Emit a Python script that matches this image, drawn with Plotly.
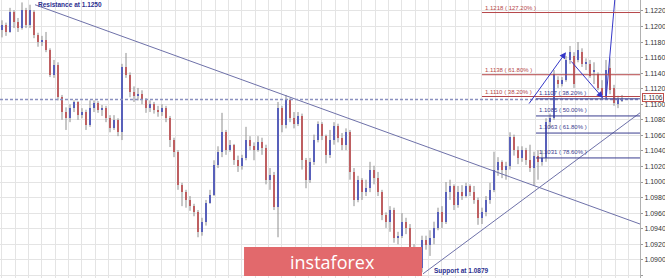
import plotly.graph_objects as go

# ---------------- data (EUR/USD style H4 candles) ----------------
opens = [1.1196, 1.1202, 1.1193, 1.1219, 1.1206, 1.1198, 1.1221, 1.1202, 1.1219, 1.1189,
         1.1180, 1.1183, 1.1170, 1.1138, 1.1151, 1.1109, 1.1090, 1.1082, 1.1095, 1.1103,
         1.1086, 1.1090, 1.1073, 1.1095, 1.1102, 1.1093, 1.1095, 1.1082, 1.1069, 1.1080,
         1.1064, 1.1148, 1.1138, 1.1116, 1.1111, 1.1113, 1.1105, 1.1095, 1.1100, 1.1093,
         1.1090, 1.1095, 1.1082, 1.1054, 1.1039, 1.0996, 1.0987, 1.0977, 1.0969, 1.0961,
         1.0936, 1.0949, 1.0973, 1.0983, 1.1022, 1.1039, 1.1064, 1.1041, 1.1048, 1.1028,
         1.1021, 1.1031, 1.1054, 1.1046, 1.1041, 1.1051, 1.1044, 1.1003, 1.1009, 1.0968,
         1.1095, 1.1073, 1.1105, 1.1082, 1.1075, 1.1085, 1.1028, 1.1003, 1.1026, 1.1054,
         1.1075, 1.1059, 1.1035, 1.1054, 1.1072, 1.1057, 1.1048, 1.1064, 1.1013, 1.0977,
         1.1003, 1.0987, 1.0992, 1.1016, 1.1005, 1.0987, 1.0958, 1.0949, 1.0964, 1.0928,
         1.0931, 1.0949, 1.0941, 1.0915, 1.0897, 1.0889, 1.0926, 1.0919, 1.0928, 1.0941,
         1.0961, 1.0949, 1.0987, 1.0995, 1.0970, 1.0987, 1.0982, 1.0995, 1.0987, 1.0977,
         1.0954, 1.0961, 1.0977, 1.0990, 1.1016, 1.1026, 1.1016, 1.1021, 1.1058, 1.1041,
         1.1031, 1.1041, 1.1028, 1.1018, 1.1034, 1.1026, 1.1031, 1.1077, 1.1082, 1.1131,
         1.1126, 1.1131, 1.1157, 1.1162, 1.1157, 1.1167, 1.1152, 1.1152, 1.1141, 1.1139,
         1.1121, 1.1111, 1.1147, 1.1121, 1.1100, 1.1105]
highs = [1.1208, 1.1205, 1.1224, 1.1221, 1.1211, 1.1231, 1.1224, 1.1228, 1.1221, 1.1192,
         1.1188, 1.1193, 1.1172, 1.1157, 1.1154, 1.1112, 1.1096, 1.1100, 1.1105, 1.1104,
         1.1095, 1.1093, 1.1105, 1.1105, 1.1104, 1.1099, 1.1098, 1.1086, 1.1086, 1.1082,
         1.1152, 1.1166, 1.1141, 1.1123, 1.1121, 1.1118, 1.1108, 1.1105, 1.1103, 1.1098,
         1.1100, 1.1098, 1.1085, 1.1057, 1.1041, 1.0999, 1.0990, 1.0982, 1.0972, 1.0964,
         1.0954, 1.0977, 1.0990, 1.1028, 1.1046, 1.1089, 1.1067, 1.1054, 1.1049, 1.1034,
         1.1035, 1.1071, 1.1059, 1.1051, 1.1059, 1.1057, 1.1048, 1.1018, 1.1013, 1.1103,
         1.1098, 1.1112, 1.1108, 1.1090, 1.1090, 1.1088, 1.1031, 1.1031, 1.1061, 1.1078,
         1.1077, 1.1061, 1.1067, 1.1077, 1.1075, 1.1063, 1.1069, 1.1067, 1.1018, 1.1008,
         1.1005, 1.1003, 1.1026, 1.1021, 1.1013, 1.0990, 1.0961, 1.0969, 1.0967, 1.0936,
         1.0960, 1.0954, 1.0946, 1.0920, 1.0902, 1.0931, 1.0931, 1.0938, 1.0949, 1.0967,
         1.0969, 1.1000, 1.1003, 1.0997, 1.0995, 1.0996, 1.0999, 1.0997, 1.0995, 1.0980,
         1.0967, 1.0982, 1.0999, 1.1039, 1.1032, 1.1028, 1.1026, 1.1064, 1.1061, 1.1046,
         1.1046, 1.1044, 1.1048, 1.1039, 1.1041, 1.1041, 1.1082, 1.1088, 1.1144, 1.1136,
         1.1135, 1.1162, 1.1175, 1.1167, 1.1180, 1.1172, 1.1159, 1.1157, 1.1154, 1.1141,
         1.1131, 1.1157, 1.1159, 1.1125, 1.1111, 1.1112]
lows = [1.1186, 1.1188, 1.1192, 1.1198, 1.1193, 1.1196, 1.1198, 1.1198, 1.1185, 1.1174,
        1.1175, 1.1167, 1.1135, 1.1134, 1.1105, 1.1080, 1.1067, 1.1077, 1.1090, 1.1080,
        1.1082, 1.1067, 1.1071, 1.1090, 1.1089, 1.1085, 1.1077, 1.1064, 1.1067, 1.1059,
        1.1054, 1.1134, 1.1109, 1.1103, 1.1105, 1.1100, 1.1089, 1.1090, 1.1088, 1.1084,
        1.1085, 1.1077, 1.1045, 1.1032, 1.0990, 1.0969, 1.0967, 1.0963, 1.0956, 1.0929,
        1.0931, 1.0944, 1.0972, 1.0982, 1.1018, 1.1032, 1.1035, 1.1039, 1.1022, 1.1013,
        1.1016, 1.1028, 1.1041, 1.1028, 1.1039, 1.1035, 1.0997, 1.0990, 1.0964, 1.0929,
        1.1064, 1.1069, 1.1077, 1.1069, 1.1072, 1.1016, 1.0992, 1.0999, 1.1022, 1.1051,
        1.1054, 1.1024, 1.1031, 1.1048, 1.1051, 1.1041, 1.1041, 1.1003, 1.0969, 1.0974,
        1.0977, 1.0982, 1.0987, 1.0997, 1.0982, 1.0951, 1.0941, 1.0936, 1.0922, 1.0920,
        1.0928, 1.0933, 1.0910, 1.0889, 1.0879, 1.0884, 1.0913, 1.0905, 1.0920, 1.0938,
        1.0941, 1.0946, 1.0977, 1.0964, 1.0967, 1.0977, 1.0980, 1.0982, 1.0972, 1.0945,
        1.0946, 1.0956, 1.0972, 1.0987, 1.1008, 1.1005, 1.1003, 1.1016, 1.1034, 1.1023,
        1.1026, 1.1022, 1.1013, 1.0995, 1.1003, 1.1021, 1.1026, 1.1069, 1.1080, 1.1121,
        1.1123, 1.1129, 1.1152, 1.1121, 1.1154, 1.1148, 1.1144, 1.1134, 1.1126, 1.1118,
        1.1108, 1.1108, 1.1113, 1.1098, 1.1095, 1.1103]
closes = [1.1202, 1.1193, 1.1219, 1.1206, 1.1198, 1.1221, 1.1202, 1.1221, 1.1189, 1.1180,
          1.1183, 1.1170, 1.1138, 1.1151, 1.1109, 1.1090, 1.1082, 1.1095, 1.1103, 1.1086,
          1.1090, 1.1073, 1.1095, 1.1102, 1.1093, 1.1095, 1.1082, 1.1069, 1.1080, 1.1064,
          1.1148, 1.1138, 1.1116, 1.1111, 1.1113, 1.1105, 1.1095, 1.1100, 1.1093, 1.1090,
          1.1095, 1.1082, 1.1054, 1.1039, 1.0996, 1.0987, 1.0977, 1.0969, 1.0961, 1.0936,
          1.0949, 1.0973, 1.0983, 1.1022, 1.1039, 1.1064, 1.1041, 1.1048, 1.1028, 1.1021,
          1.1031, 1.1054, 1.1046, 1.1041, 1.1051, 1.1044, 1.1003, 1.1009, 1.0968, 1.1095,
          1.1073, 1.1105, 1.1082, 1.1075, 1.1085, 1.1028, 1.1003, 1.1026, 1.1054, 1.1075,
          1.1059, 1.1035, 1.1054, 1.1072, 1.1057, 1.1048, 1.1064, 1.1013, 1.0977, 1.1003,
          1.0987, 1.0992, 1.1016, 1.1005, 1.0987, 1.0958, 1.0949, 1.0964, 1.0928, 1.0931,
          1.0949, 1.0941, 1.0915, 1.0897, 1.0889, 1.0926, 1.0919, 1.0928, 1.0941, 1.0961,
          1.0949, 1.0987, 1.0995, 1.0970, 1.0987, 1.0982, 1.0995, 1.0987, 1.0977, 1.0954,
          1.0961, 1.0977, 1.0990, 1.1016, 1.1026, 1.1016, 1.1021, 1.1058, 1.1041, 1.1031,
          1.1041, 1.1028, 1.1018, 1.1034, 1.1026, 1.1031, 1.1077, 1.1082, 1.1139, 1.1126,
          1.1131, 1.1157, 1.1167, 1.1126, 1.1170, 1.1152, 1.1154, 1.1136, 1.1144, 1.1121,
          1.1112, 1.1144, 1.1118, 1.1102, 1.1107, 1.1106]

y_ticks = [1.0880, 1.0900, 1.0920, 1.0940, 1.0960, 1.0980, 1.1000, 1.1020, 1.1040,
           1.1060, 1.1080, 1.1100, 1.1120, 1.1140, 1.1160, 1.1180, 1.1200, 1.1220]
y_tick_labels = ["1.0880", "1.0900", "1.0920", "1.0940", "1.0960", "1.0980", "1.1000",
                 "1.1020", "1.1040", "1.1060", "1.1080", "1.1100", "1.1120", "1.1140",
                 "1.1160", "1.1180", "1.1200", "1.1220"]

current_price = 1.1106
current_price_label = "1.1106"

# Fibonacci levels (red: projection, blue: retracement)
red_fib_levels = [1.1218, 1.1138, 1.1110]
red_fib_labels = ["1.1218 ( 127.20% )", "1.1138 ( 61.80% )", "1.1110 ( 38.20% )"]
red_fib_start = 120
blue_fib_levels = [1.1107, 1.1085, 1.1063, 1.1031]
blue_fib_labels = ["1.1107 ( 38.20% )", "1.1085 ( 50.00% )", "1.1063 ( 61.80% )", "1.1031 ( 78.60% )"]
blue_fib_start = 133.5

# Trend lines (candle index, price)
resistance_x = [8.25, 159.5]
resistance_y = [1.1228, 1.0946]
support_x = [105.25, 159.5]
support_y = [1.0882, 1.1089]
resistance_text = "Resistance at 1.1250"
support_text = "Support at 1.0879"

# Projection zig-zag arrows: (tail x, tail y, head x, head y)
arrow_tail_x = [131.5, 142.0]
arrow_tail_y = [1.1099, 1.1157]
arrow_head_x = [141.0, 150.25]
arrow_head_y = [1.1167, 1.1108]
proj_x = [151.0, 153.5]
proj_y = [1.1106, 1.1252]

watermark = "instaforex"

# ---------------- figure ----------------
idx = list(range(len(closes)))
BULL = "#2233e6"
BEAR = "#ee3035"
WICK = "#8e8e8e"
NAVY = "#3a3d8f"
REDF = "#b5474a"
TREND = "#6e71a9"

fig = go.Figure()

# wicks
wx, wy = [], []
for i, h, l in zip(idx, highs, lows):
    wx += [i, i, None]
    wy += [l, h, None]
fig.add_trace(go.Scatter(x=wx, y=wy, mode="lines", line=dict(color=WICK, width=1),
                         hoverinfo="skip", showlegend=False))

# bodies
bases = [min(o, c) for o, c in zip(opens, closes)]
heights = [max(abs(c - o), 0.00008) for o, c in zip(opens, closes)]
cols = [BULL if c >= o else BEAR for o, c in zip(opens, closes)]
fig.add_trace(go.Bar(x=idx, y=heights, base=bases, width=0.72,
                     marker=dict(color=cols, line=dict(width=0)),
                     hoverinfo="skip", showlegend=False))

# trend lines
fig.add_trace(go.Scatter(x=resistance_x, y=resistance_y, mode="lines",
                         line=dict(color=TREND, width=1), hoverinfo="skip", showlegend=False))
fig.add_trace(go.Scatter(x=support_x, y=support_y, mode="lines",
                         line=dict(color=TREND, width=1), hoverinfo="skip", showlegend=False))
fig.add_trace(go.Scatter(x=proj_x, y=proj_y, mode="lines",
                         line=dict(color="#3537c8", width=1), hoverinfo="skip", showlegend=False))

shapes = []
annotations = []

# current price dashed line
shapes.append(dict(type="line", xref="paper", x0=0, x1=1, yref="y",
                   y0=current_price, y1=current_price,
                   line=dict(color="#8a90bf", width=1.5, dash="3px,2px")))

for lvl, txt in zip(red_fib_levels, red_fib_labels):
    shapes.append(dict(type="line", xref="x", x0=red_fib_start, x1=159.5, yref="y",
                       y0=lvl, y1=lvl, line=dict(color=REDF, width=1)))
    annotations.append(dict(x=red_fib_start + 0.25, y=lvl, xref="x", yref="y", text=txt,
                            showarrow=False, xanchor="left", yanchor="bottom", yshift=0,
                            font=dict(family="Liberation Sans", size=6, color=REDF)))

for lvl, txt in zip(blue_fib_levels, blue_fib_labels):
    shapes.append(dict(type="line", xref="x", x0=blue_fib_start, x1=159.5, yref="y",
                       y0=lvl, y1=lvl, line=dict(color=NAVY, width=1)))
    annotations.append(dict(x=blue_fib_start + 0.25, y=lvl, xref="x", yref="y", text=txt,
                            showarrow=False, xanchor="left", yanchor="bottom", yshift=1,
                            font=dict(family="Liberation Sans", size=6, color=NAVY)))

for tx, ty, hx, hy in zip(arrow_tail_x, arrow_tail_y, arrow_head_x, arrow_head_y):
    annotations.append(dict(x=hx, y=hy, ax=tx, ay=ty, xref="x", yref="y", axref="x", ayref="y",
                            text="", showarrow=True, arrowhead=2, arrowsize=1.3,
                            arrowwidth=1, arrowcolor="#3537c8", standoff=0))

# watermark box
shapes.append(dict(type="rect", xref="paper", yref="paper", x0=0.3813, x1=0.6594,
                   y0=0.0072, y1=0.1115, fillcolor="#e2696c", line=dict(width=0), layer="above"))
annotations.append(dict(x=0.520, y=0.058, xref="paper", yref="paper", text=watermark,
                        showarrow=False, xanchor="center", yanchor="middle",
                        font=dict(family="Open Sans", size=18, color="white")))

annotations.append(dict(x=0.0565, y=0.984, xref="paper", yref="paper", text="<b>" + resistance_text + "</b>",
                        showarrow=False, xanchor="left", yanchor="middle",
                        font=dict(family="Liberation Sans", size=6.5, color="#2b2f8f")))
annotations.append(dict(x=0.675, y=0.026, xref="paper", yref="paper", text="<b>" + support_text + "</b>",
                        showarrow=False, xanchor="left", yanchor="middle",
                        font=dict(family="Liberation Sans", size=6.5, color="#2b2f8f")))

# current price tag on axis
annotations.append(dict(x=1, y=current_price, xref="paper", yref="y", text=current_price_label,
                        showarrow=False, xanchor="left", yanchor="middle", xshift=2, yshift=2,
                        bgcolor="white", bordercolor="#c0504d", borderwidth=1, borderpad=0,
                        font=dict(family="Liberation Sans", size=6.5, color="#333333")))

fig.update_layout(
    width=665, height=278,
    margin=dict(l=0, r=25, t=0, b=0),
    paper_bgcolor="white", plot_bgcolor="white",
    barmode="overlay", bargap=0,
    showlegend=False,
    shapes=shapes, annotations=annotations,
    xaxis=dict(range=[-0.5, 159.5], showticklabels=False, ticks="",
               showgrid=True, gridcolor="#e4e4e4", gridwidth=1,
               tick0=-0.075, dtick=10 / 3, zeroline=False, showline=False,
               fixedrange=True),
    yaxis=dict(range=[1.08766, 1.12341], side="right", tickvals=y_ticks,
               ticktext=y_tick_labels, showgrid=True, gridcolor="#e4e4e4", gridwidth=1,
               ticks="outside", ticklen=2, tickcolor="#999999",
               showline=True, linecolor="#b0b0b0", linewidth=1,
               tickfont=dict(family="Liberation Sans", size=7, color="#333333"),
               zeroline=False, automargin=False, fixedrange=True),
)

fig.write_html("out.html")
